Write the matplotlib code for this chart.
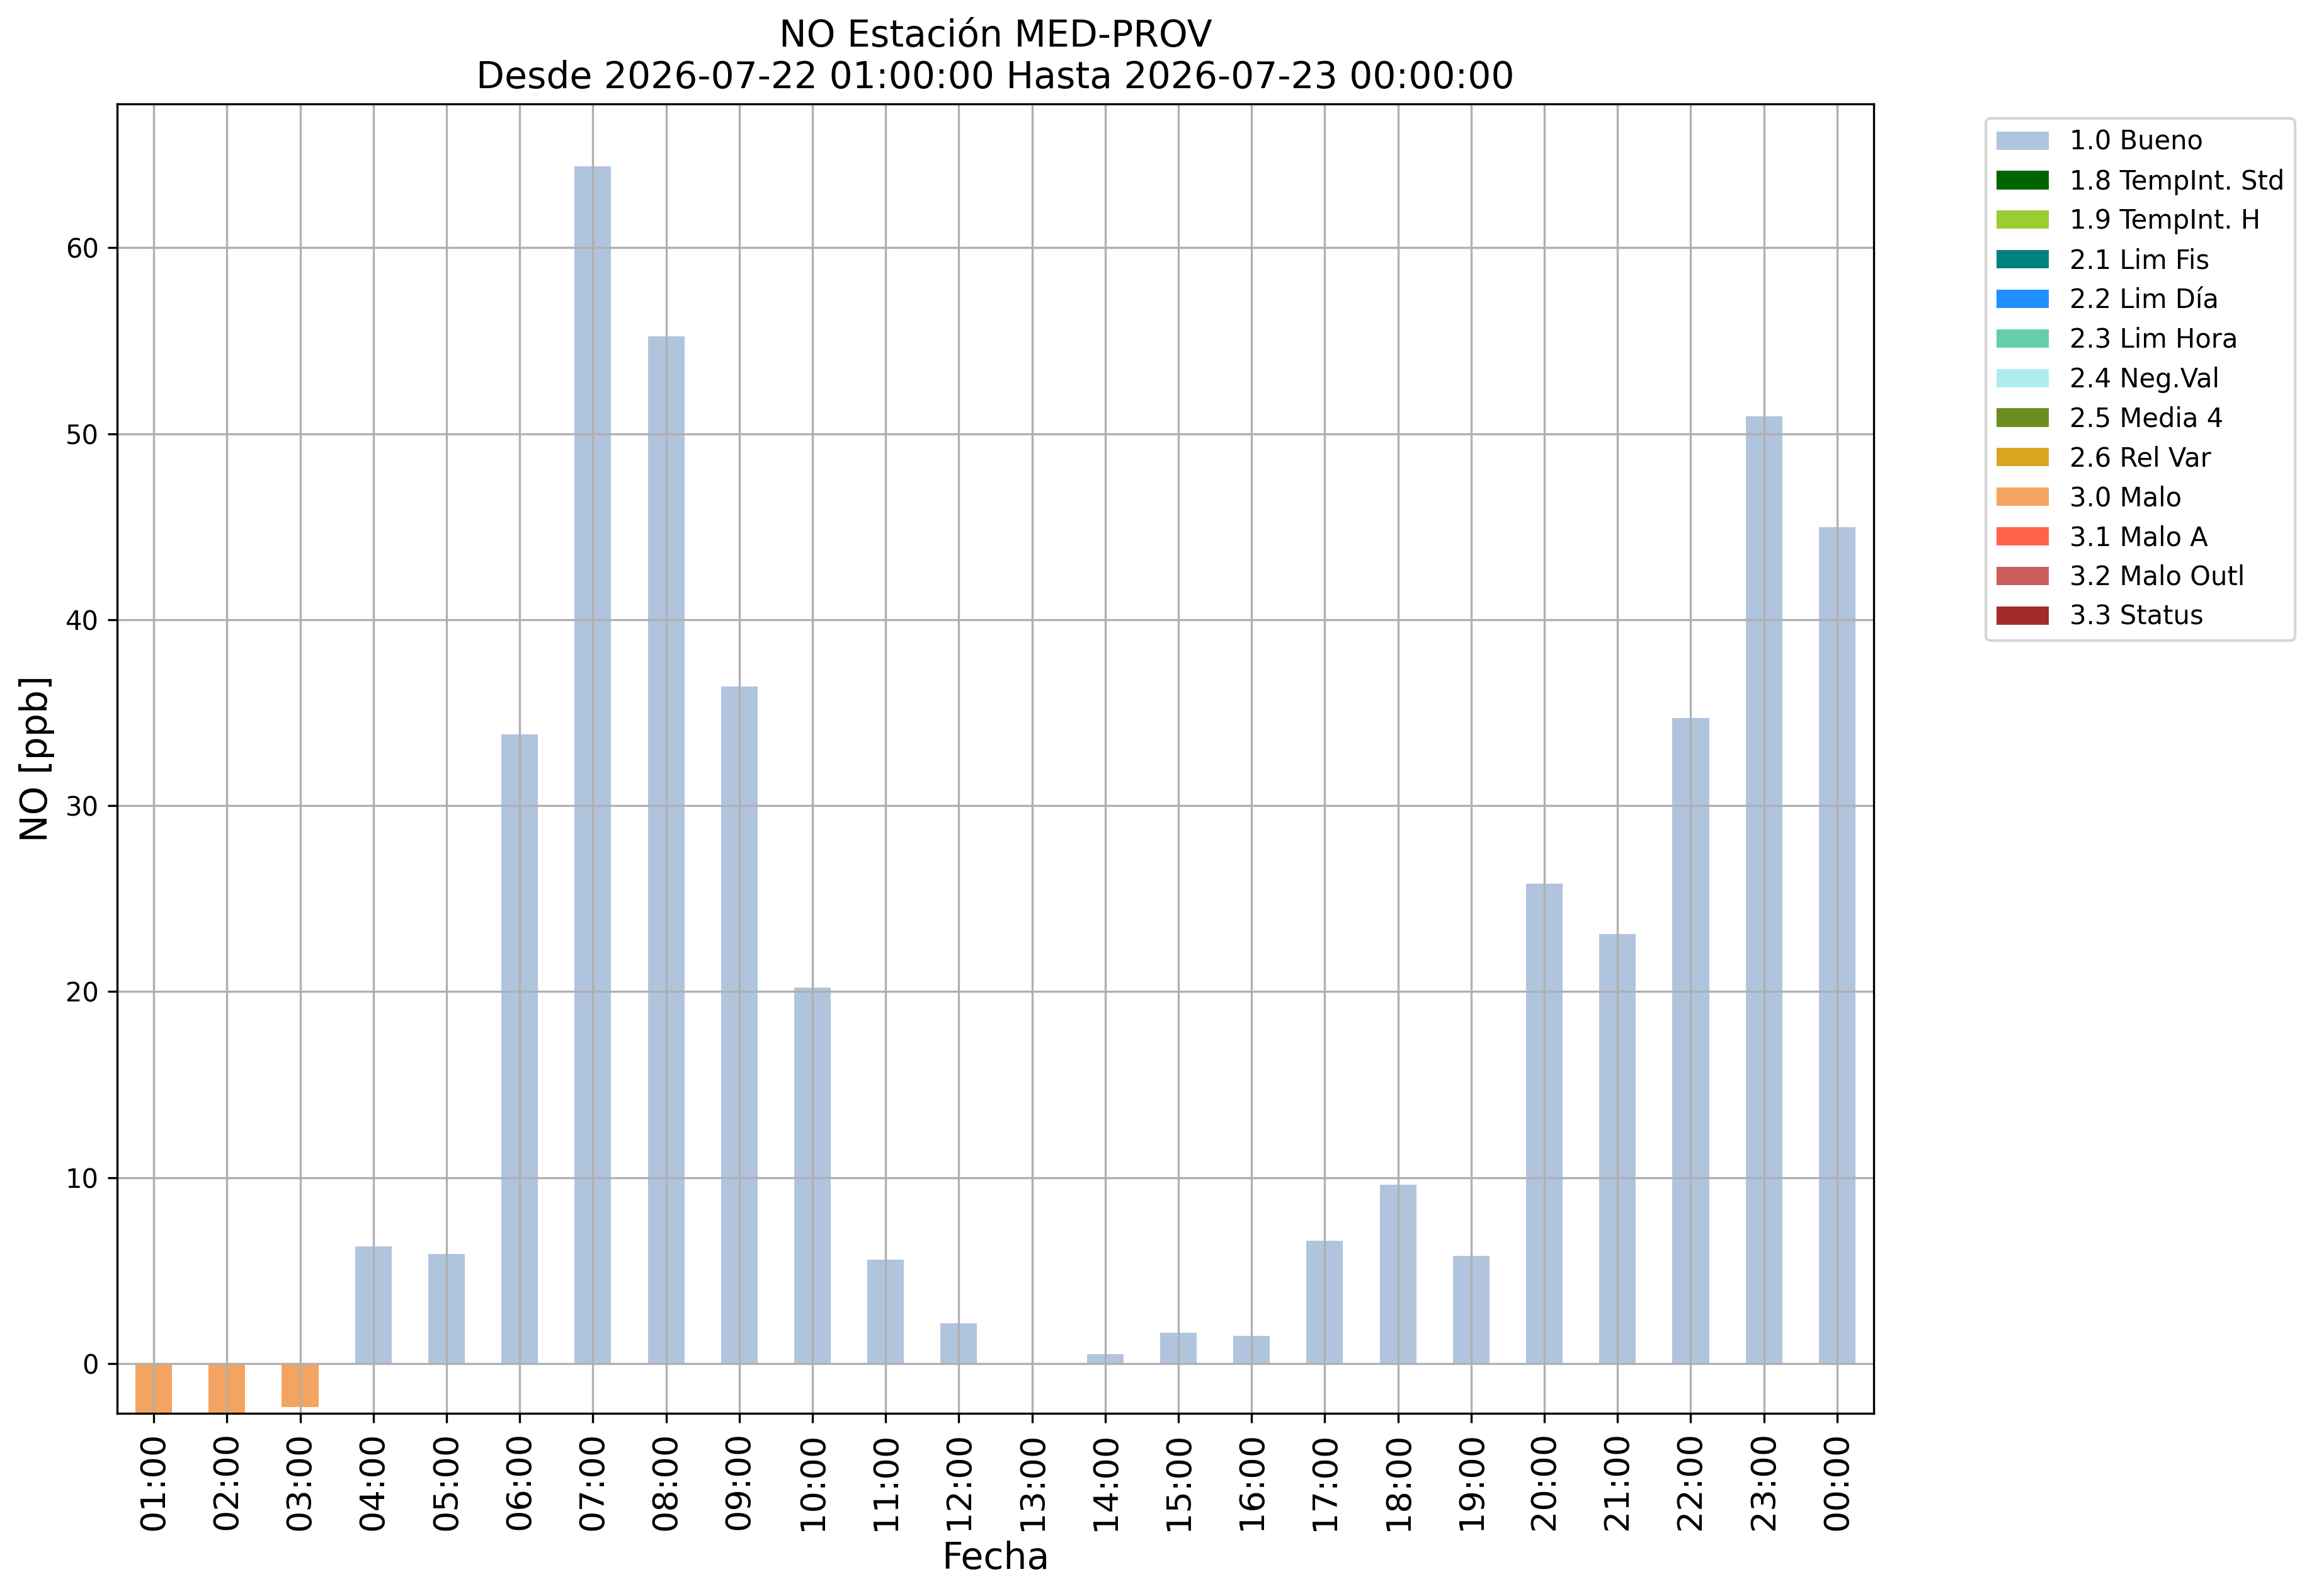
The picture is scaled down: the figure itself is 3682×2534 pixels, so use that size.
import numpy as np
import matplotlib
matplotlib.use('Agg')
import matplotlib.pyplot as plt

# hourly NO values and quality flag of each hour
horas = ['01:00', '02:00', '03:00', '04:00', '05:00', '06:00', '07:00', '08:00',
         '09:00', '10:00', '11:00', '12:00', '13:00', '14:00', '15:00', '16:00',
         '17:00', '18:00', '19:00', '20:00', '21:00', '22:00', '23:00', '00:00']
valores = [-2.68, -2.65, -2.34, 6.3, 5.9, 33.84, 64.38, 55.23,
           36.41, 20.2, 5.6, 2.15, np.nan, 0.52, 1.67, 1.47,
           6.6, 9.6, 5.8, 25.8, 23.1, 34.7, 50.92, 44.99]
banderas = ['3.0 Malo', '3.0 Malo', '3.0 Malo'] + ['1.0 Bueno'] * 21

etiquetas = ['1.0 Bueno', '1.8 TempInt. Std', '1.9 TempInt. H', '2.1 Lim Fis', '2.2 Lim Día',
             '2.3 Lim Hora', '2.4 Neg.Val', '2.5 Media 4', '2.6 Rel Var', '3.0 Malo',
             '3.1 Malo A', '3.2 Malo Outl', '3.3 Status']
colores = ['lightsteelblue', 'darkgreen', 'yellowgreen', 'teal', 'dodgerblue',
           'mediumaquamarine', 'paleturquoise', 'olivedrab', 'goldenrod', 'sandybrown',
           'tomato', 'indianred', 'brown']

W, H, DPI = 3682, 2534, 300
fig = plt.figure(figsize=(W / DPI, H / DPI), dpi=DPI)
ax = fig.add_subplot(111)
fig.subplots_adjust(left=186 / W, right=2975 / W, top=1 - 165 / H, bottom=1 - 2244 / H)

x = np.arange(len(horas))
vals = np.array(valores, dtype=float)
flags = np.array(banderas)
for etq, col in zip(etiquetas, colores):
    h = np.where(flags == etq, vals, np.nan)
    ax.bar(x, h, width=0.5, color=col, label=etq)

ax.set_xticks(x)
ax.set_xticklabels(horas, rotation=90, fontsize=13)
ax.tick_params(axis='y', labelsize=10)
ax.set_xlim(-0.5, len(horas) - 0.5)
vmin, vmax = np.nanmin(vals), np.nanmax(vals)
ax.set_ylim(vmin, vmax + 0.05 * (vmax - vmin))
ax.grid(True)

ax.set_title('NO Estación MED-PROV\nDesde 2026-07-22 01:00:00 Hasta 2026-07-23 00:00:00', fontsize=14)
ax.set_xlabel('Fecha', fontsize=14)
ax.set_ylabel('NO [ppb]', fontsize=14)

ax.legend(loc='upper left', bbox_to_anchor=(3153 / W, 1 - 188 / H),
          bbox_transform=fig.transFigure, borderaxespad=0, fontsize=10)

fig.savefig('out.png', dpi=DPI)
